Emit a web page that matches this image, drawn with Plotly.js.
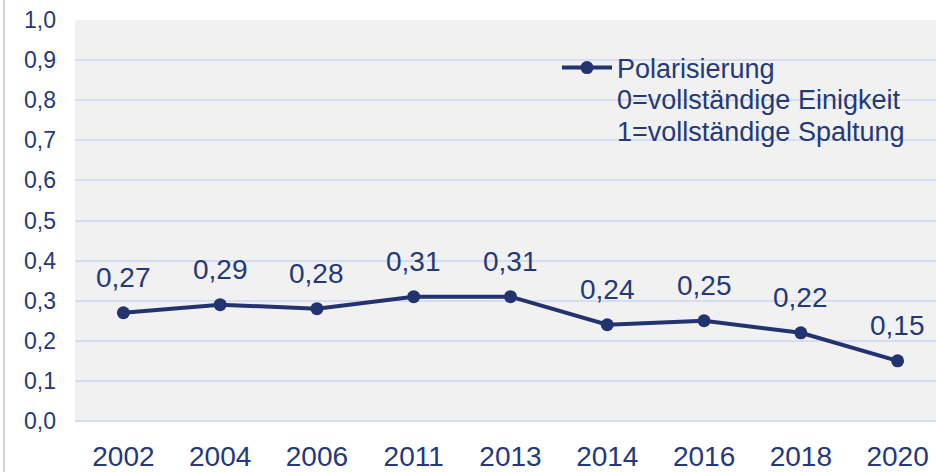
<!DOCTYPE html>
<html>
<head>
<meta charset="utf-8">
<script src="https://cdn.plot.ly/plotly-3.0.1.min.js"></script>
<style>
html, body { margin:0; padding:0; background:#ffffff; overflow:hidden; width:936px; height:472px; }
#wrap { position:relative; width:936px; height:472px; overflow:hidden; }
#border { position:absolute; left:3px; top:0; width:2px; height:472px; background:#d4d4d4; z-index:5; }
#chart { position:absolute; left:0; top:0; width:946px; height:472px; }
</style>
</head>
<body>
<div id="wrap"><div id="border"></div><div id="chart"></div></div>
<script>
const years = ["2002","2004","2006","2011","2013","2014","2016","2018","2020"];
const polarisierung = [0.27, 0.29, 0.28, 0.31, 0.31, 0.24, 0.25, 0.22, 0.15];
const yTickVals = [0,0.1,0.2,0.3,0.4,0.5,0.6,0.7,0.8,0.9,1.0];
const yTickText = ["0,0","0,1","0,2","0,3","0,4","0,5","0,6","0,7","0,8","0,9","1,0"];
const seriesName = "Polarisierung";
const legendLines = ["0=vollständige Einigkeit", "1=vollständige Spaltung"];

const lineColor = "#22336f";
const textColor = "#24397a";
const fontFam = "Arial, 'Liberation Sans', sans-serif";

const fmt = v => v.toFixed(2).replace(".", ",");

const trace = {
  x: years, y: polarisierung, type: "scatter", mode: "lines+markers",
  name: seriesName,
  line: {color: lineColor, width: 4},
  marker: {color: lineColor, size: 13},
  hoverinfo: "skip"
};

const annotations = years.map((yr, i) => ({
  x: i, y: polarisierung[i], xref: "x", yref: "y",
  text: fmt(polarisierung[i]), showarrow: false,
  yanchor: "bottom", yshift: 18,
  font: {family: fontFam, size: 28, color: textColor}
}));
legendLines.forEach((t, i) => {
  annotations.push({
    x: (615 - 75) / 871, y: (421 - (100 + 32 * i)) / 401, xref: "paper", yref: "paper",
    xanchor: "left", yanchor: "middle", text: t, showarrow: false,
    font: {family: fontFam, size: 27, color: textColor}
  });
});

const layout = {
  width: 946, height: 472,
  margin: {l: 75, r: 0, t: 20, b: 51, pad: 0},
  paper_bgcolor: "#ffffff",
  plot_bgcolor: "#f1f1f1",
  font: {family: fontFam, color: textColor},
  showlegend: true,
  legend: {
    x: (557 - 75) / 871, y: (421 - 68) / 401, xanchor: "left", yanchor: "middle",
    bgcolor: "rgba(0,0,0,0)", font: {family: fontFam, size: 27, color: textColor},
    itemwidth: 50
  },
  xaxis: {
    type: "category", range: [-0.5, 8.5], showgrid: false, zeroline: false, showline: false,
    ticks: "", tickfont: {family: fontFam, size: 28, color: textColor},
    ticklabelstandoff: 16, fixedrange: true
  },
  yaxis: {
    range: [0, 1.0], tickvals: yTickVals, ticktext: yTickText,
    showgrid: true, gridcolor: "#d6ddf0", gridwidth: 2,
    zeroline: true, zerolinecolor: "#d6ddf0", zerolinewidth: 2,
    showline: false, ticks: "",
    tickfont: {family: fontFam, size: 23, color: textColor},
    ticklabelstandoff: 18, fixedrange: true
  },
  annotations: annotations
};

Plotly.newPlot("chart", [trace], layout, {displayModeBar: false, staticPlot: true});
</script>
</body>
</html>
